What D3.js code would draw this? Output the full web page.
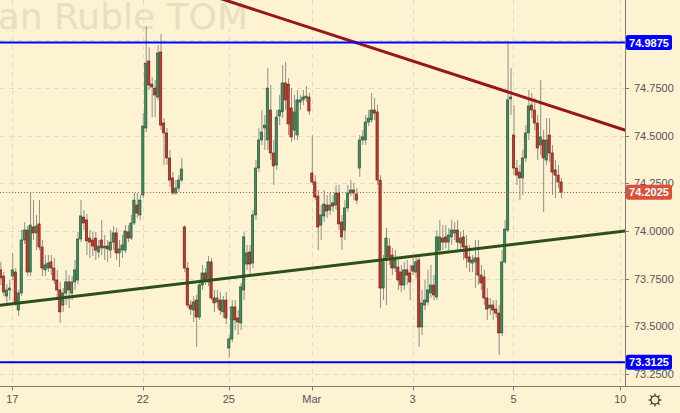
<!DOCTYPE html>
<html>
<head>
<meta charset="utf-8">
<script src="https://cdn.jsdelivr.net/npm/d3@7"></script>
<style>
  body { margin: 0; background: #fdf2d2; }
  svg { display: block; }
</style>
</head>
<body>
<script>
// velas de una hora: [apertura, maximo, minimo, cierre]
var velas = [
  [73.796,73.838,73.717,73.754],[73.764,73.785,73.659,73.680],[73.659,73.722,73.612,73.691],[73.691,73.743,73.638,73.701],
  [73.764,73.885,73.743,73.796],[73.785,73.806,73.607,73.623],[73.586,73.691,73.555,73.675],[73.675,74.005,73.659,73.953],
  [73.953,74.047,73.932,74.005],[74.005,74.026,73.764,73.785],[73.785,74.199,73.764,74.031],[74.021,74.162,73.953,73.990],
  [73.990,74.084,73.900,74.026],[74.037,74.162,73.900,73.916],[73.916,73.953,73.764,73.806],[73.796,73.874,73.764,73.822],
  [73.806,73.874,73.785,73.832],[73.838,73.874,73.769,73.806],[73.806,73.859,73.722,73.743],[73.743,73.796,73.638,73.691],
  [73.691,73.733,73.518,73.576],[73.612,73.701,73.576,73.675],[73.675,73.796,73.612,73.733],[73.733,73.769,73.597,73.691],
  [73.675,73.764,73.638,73.733],[73.733,73.848,73.691,73.796],[73.743,73.995,73.722,73.958],[73.958,74.162,73.942,74.079],
  [74.073,74.110,74.005,74.042],[74.058,74.089,73.874,73.948],[73.963,74.005,73.859,73.942],[73.953,73.995,73.869,73.921],
  [73.963,73.995,73.848,73.900],[73.890,73.953,73.859,73.921],[73.953,74.058,73.874,73.911],[73.911,73.979,73.848,73.921],
  [73.921,73.953,73.838,73.906],[73.900,74.005,73.859,73.942],[73.942,74.026,73.900,73.990],[73.990,74.016,73.848,73.885],
  [73.885,73.953,73.811,73.906],[73.900,73.979,73.859,73.927],[73.900,74.031,73.885,74.000],[73.995,74.031,73.942,73.963],
  [73.963,74.084,73.953,74.042],[74.042,74.199,74.031,74.162],[74.136,74.199,74.068,74.094],[74.084,74.189,74.058,74.162],
  // 22
  [74.189,74.618,74.173,74.550],[74.540,75.074,74.519,74.880],[74.891,74.964,74.739,74.765],[74.770,74.807,74.597,74.755],
  [74.749,74.791,74.597,74.713],[74.702,74.975,74.687,74.933],[74.938,75.032,74.529,74.555],[74.566,74.592,74.346,74.514],
  [74.514,74.540,74.346,74.383],[74.383,74.425,74.231,74.267],[74.278,74.309,74.189,74.199],[74.199,74.267,74.189,74.225],
  [74.225,74.293,74.204,74.267],[74.267,74.383,74.257,74.325],
  // 24
  [74.021,74.031,73.785,73.806],[73.806,73.838,73.597,73.612],[73.612,73.638,73.560,73.591],[73.586,73.659,73.523,73.628],
  [73.638,73.665,73.392,73.549],[73.549,73.743,73.534,73.717],[73.717,73.822,73.691,73.780],[73.780,73.806,73.717,73.743],
  [73.733,73.869,73.712,73.838],[73.838,73.859,73.638,73.649],[73.649,73.691,73.576,73.623],[73.628,73.691,73.597,73.649],
  [73.638,73.680,73.560,73.586],[73.576,73.659,73.544,73.638],[73.638,73.680,73.513,73.544],
  // 25 - 26
  [73.387,73.455,73.335,73.434],[73.434,73.638,73.418,73.602],[73.602,73.638,73.481,73.534],[73.544,73.586,73.455,73.523],
  [73.518,73.728,73.481,73.707],[73.691,73.995,73.638,73.969],[73.827,73.927,73.796,73.885],[73.890,73.927,73.769,73.827],
  [73.832,74.110,73.806,74.084],[74.084,74.372,74.058,74.330],[74.330,74.540,74.309,74.477],[74.477,74.634,74.451,74.519],
  [74.540,74.608,74.425,74.555],[74.477,74.854,74.425,74.749],[74.634,74.765,74.372,74.409],[74.409,74.477,74.241,74.341],
  [74.346,74.634,74.320,74.597],[74.603,74.713,74.555,74.634],[74.624,74.870,74.592,74.776],[74.776,74.886,74.634,74.687],
  [74.770,74.802,74.503,74.561],[74.645,74.749,74.466,74.493],[74.529,74.713,74.477,74.624],[74.503,74.739,74.477,74.687],
  [74.676,74.713,74.634,74.687],[74.687,74.739,74.660,74.702],[74.697,74.760,74.676,74.707],[74.702,74.723,74.608,74.629],
  // Mar 1 - 2
  [74.304,74.503,74.241,74.257],[74.257,74.293,74.162,74.178],[74.183,74.215,73.900,74.021],[74.031,74.136,73.953,74.084],
  [74.079,74.215,74.047,74.141],[74.136,74.189,74.068,74.105],[74.110,74.204,74.084,74.136],[74.147,74.189,74.100,74.131],
  [74.136,74.241,74.110,74.199],[74.199,74.241,74.005,74.037],[74.047,74.084,73.900,73.969],[74.005,74.162,73.953,74.121],
  [74.121,74.241,74.100,74.199],[74.199,74.267,74.183,74.215],[74.215,74.252,74.162,74.199],[74.194,74.225,74.141,74.162],
  [74.330,74.503,74.283,74.477],[74.477,74.529,74.451,74.493],[74.477,74.608,74.451,74.571],[74.571,74.634,74.550,74.592],
  [74.582,74.723,74.566,74.634],[74.634,74.697,74.582,74.618],[74.624,74.660,74.241,74.267],[74.267,74.293,73.597,73.701],
  [73.701,73.874,73.638,73.838],[73.848,74.016,73.612,73.963],[73.921,73.963,73.822,73.864],[73.874,73.911,73.769,73.806],
  [73.806,73.900,73.785,73.859],[73.811,73.848,73.691,73.743],[73.785,73.822,73.680,73.717],[73.717,73.838,73.691,73.796],
  [73.796,73.848,73.717,73.769],[73.780,73.822,73.638,73.733],
  // 3 - 4
  [73.817,73.859,73.769,73.790],[73.785,73.874,73.754,73.838],[73.848,73.874,73.392,73.497],[73.497,73.691,73.455,73.623],
  [73.612,73.743,73.586,73.638],[73.628,73.796,73.612,73.691],[73.675,73.822,73.649,73.717],[73.717,73.769,73.638,73.665],
  [73.654,74.005,73.638,73.969],[73.900,74.058,73.874,73.969],[73.963,74.031,73.900,73.942],[73.969,74.031,73.911,73.942],
  [73.942,74.016,73.900,73.979],[73.969,74.058,73.927,74.005],[73.990,74.047,73.953,74.005],[74.005,74.058,73.900,73.942],
  [73.937,73.995,73.900,73.963],[73.969,74.005,73.848,73.916],[73.921,73.979,73.806,73.859],[73.864,73.927,73.785,73.838],
  [73.832,73.874,73.785,73.848],[73.838,73.953,73.701,73.859],[73.859,73.953,73.717,73.769],[73.769,73.822,73.691,73.728],
  [73.759,73.796,73.612,73.649],[73.649,73.701,73.534,73.591],[73.597,73.649,73.560,73.612],[73.612,73.638,73.534,73.586],
  [73.591,73.638,73.544,73.570],[73.570,73.612,73.350,73.466],[73.466,73.900,73.450,73.838],[73.838,74.058,73.830,74.010],
  [74.005,74.985,73.995,74.687],[74.692,74.854,74.608,74.702],
  // 5
  [74.503,74.660,74.293,74.330],[74.330,74.372,74.241,74.293],[74.309,74.346,74.162,74.278],[74.278,74.425,74.189,74.383],
  [74.383,74.555,74.362,74.514],[74.514,74.739,74.477,74.655],[74.660,74.723,74.592,74.634],[74.634,74.697,74.529,74.566],
  [74.566,74.608,74.372,74.435],[74.451,74.791,74.398,74.493],[74.477,74.529,74.100,74.383],[74.372,74.592,74.346,74.477],
  [74.503,74.592,74.362,74.409],[74.409,74.451,74.189,74.309],[74.320,74.372,74.173,74.293],[74.293,74.346,74.225,74.257],
  [74.257,74.278,74.173,74.2025]
];

// etiquetas de fecha (indice de la primera vela del dia)
var diasIdx = [4, 48, 77, 105, 139, 173, 209];
var diasTxt = ["17", "22", "25", "Mar", "3", "5", "10"];

// precios: lineas de rejilla y etiquetas del eje derecho
var preciosRejilla = [73.25, 73.5, 73.75, 74, 74.25, 74.5, 74.75, 75];
var preciosTicks = [73.25, 73.5, 73.75, 74, 74.25, 74.5, 74.75];

// niveles horizontales azules y ultimo precio
var niveles = [74.9875, 73.3125];
var ultimo = 74.2025;

// lineas de tendencia [indice, precio]
var tendRoja = [[60, 75.290], [212, 74.522]];
var tendVerde = [[-2, 73.608], [212, 74.002]];

var W = 680, H = 413;
var plotW = 625, plotH = 386.5;

var x = d3.scaleLinear().domain([-0.135, 210.6]).range([0, plotW]);
var y = d3.scaleLinear().domain([73.185, 75.2107]).range([plotH, 0]);

var svg = d3.select("body").append("svg")
  .attr("width", W)
  .attr("height", H);

svg.append("rect").attr("width", W).attr("height", H).attr("fill", "#fdf2d2");

svg.append("defs").append("clipPath").attr("id", "zona")
  .append("rect").attr("width", plotW).attr("height", plotH);

// marca de agua (cortada por la izquierda como en el original)
svg.append("g").attr("clip-path", "url(#zona)")
  .append("text")
  .attr("x", 248)
  .attr("y", 29)
  .attr("text-anchor", "end")
  .attr("font-family", "DejaVu Sans")
  .attr("font-size", 36)
  .attr("fill", "#e8dfc1")
  .text("U.S. Dollar / Russian Ruble TOM");

// rejilla
var rejilla = svg.append("g").attr("stroke", "#dadcd8").attr("stroke-width", 1).attr("stroke-dasharray", "5,4");
rejilla.selectAll(".gv").data(diasIdx).enter().append("line")
  .attr("x1", function(d) { return Math.round(x(d)) + 0.5; })
  .attr("x2", function(d) { return Math.round(x(d)) + 0.5; })
  .attr("y1", 0).attr("y2", plotH);
rejilla.selectAll(".gh").data(preciosRejilla).enter().append("line")
  .attr("x1", 0).attr("x2", plotW)
  .attr("y1", function(d) { return Math.round(y(d)) + 0.5; })
  .attr("y2", function(d) { return Math.round(y(d)) + 0.5; });

var zona = svg.append("g").attr("clip-path", "url(#zona)");

// velas
var g = zona.append("g");
g.selectAll(".mecha").data(velas).enter().append("line")
  .attr("x1", function(d, i) { return x(i) + 0.5; })
  .attr("x2", function(d, i) { return x(i) + 0.5; })
  .attr("y1", function(d) { return y(d[1]); })
  .attr("y2", function(d) { return y(d[2]); })
  .attr("stroke", "#8f8f8a")
  .attr("stroke-width", 1);

g.selectAll(".cuerpo").data(velas).enter().append("rect")
  .attr("x", function(d, i) { return x(i) - 1.1; })
  .attr("width", 2.3)
  .attr("y", function(d) { return y(Math.max(d[0], d[3])); })
  .attr("height", function(d) { return Math.max(1, Math.abs(y(d[0]) - y(d[3]))); })
  .attr("fill", function(d) { return d[3] >= d[0] ? "#3f8c5e" : "#c23a2a"; })
  .attr("stroke", function(d) { return d[3] >= d[0] ? "#1e4f31" : "#6b1a10"; })
  .attr("stroke-width", 0.6);

// lineas de tendencia
var linea = d3.line().x(function(d) { return x(d[0]); }).y(function(d) { return y(d[1]); });
zona.append("path").attr("d", linea(tendRoja)).attr("stroke", "#971717").attr("stroke-width", 3).attr("fill", "none");
zona.append("path").attr("d", linea(tendVerde)).attr("stroke", "#2b5118").attr("stroke-width", 3).attr("fill", "none");

// niveles azules
zona.selectAll(".nivel").data(niveles).enter().append("line")
  .attr("x1", 0).attr("x2", plotW)
  .attr("y1", function(d) { return y(d); })
  .attr("y2", function(d) { return y(d); })
  .attr("stroke", "#0000ff")
  .attr("stroke-width", 2);

// linea del ultimo precio
zona.append("line")
  .attr("x1", 0).attr("x2", plotW)
  .attr("y1", Math.round(y(ultimo)) + 0.5).attr("y2", Math.round(y(ultimo)) + 0.5)
  .attr("stroke", "#e0503d")
  .attr("stroke-width", 1)
  .attr("stroke-dasharray", "1,2");

// ejes
svg.append("line").attr("x1", 0).attr("x2", W).attr("y1", plotH).attr("y2", plotH)
  .attr("stroke", "#7d7d78").attr("stroke-width", 1);
svg.append("line").attr("x1", plotW + 0.5).attr("x2", plotW + 0.5).attr("y1", 0).attr("y2", plotH)
  .attr("stroke", "#7d7d78").attr("stroke-width", 1);

// eje x
var ejeX = svg.append("g");
ejeX.selectAll(".tx").data(diasIdx).enter().append("line")
  .attr("x1", function(d) { return Math.round(x(d)) + 0.5; })
  .attr("x2", function(d) { return Math.round(x(d)) + 0.5; })
  .attr("y1", plotH).attr("y2", plotH + 4)
  .attr("stroke", "#7d7d78");
ejeX.selectAll(".lx").data(diasIdx).enter().append("text")
  .attr("x", function(d) { return x(d); })
  .attr("y", 403)
  .attr("text-anchor", "middle")
  .attr("font-family", "Liberation Sans, Arial, sans-serif")
  .attr("font-size", 11)
  .attr("fill", "#555")
  .text(function(d, i) { return diasTxt[i]; });

// eje y
var fmt = d3.format(".4f");
var ejeY = svg.append("g");
ejeY.selectAll(".ty").data(preciosRejilla).enter().append("line")
  .attr("x1", plotW).attr("x2", plotW + 4)
  .attr("y1", function(d) { return Math.round(y(d)) + 0.5; })
  .attr("y2", function(d) { return Math.round(y(d)) + 0.5; })
  .attr("stroke", "#7d7d78");
ejeY.selectAll(".ly").data(preciosTicks).enter().append("text")
  .attr("x", 634)
  .attr("y", function(d) { return y(d) + 4; })
  .attr("font-family", "Liberation Sans, Arial, sans-serif")
  .attr("font-size", 11)
  .attr("fill", "#555")
  .text(function(d) { return fmt(d); });

// etiquetas de precio
function etiqueta(valor, color) {
  var yy = y(valor);
  svg.append("rect")
    .attr("x", 626).attr("y", yy - 7.5)
    .attr("width", 46).attr("height", 15)
    .attr("rx", 2)
    .attr("fill", color);
  svg.append("text")
    .attr("x", 649).attr("y", yy + 4)
    .attr("text-anchor", "middle")
    .attr("font-family", "Liberation Sans, Arial, sans-serif")
    .attr("font-size", 11)
    .attr("font-weight", "bold")
    .attr("fill", "#fff")
    .text(fmt(valor));
}
niveles.forEach(function(v) { etiqueta(v, "#0000ff"); });
etiqueta(ultimo, "#d9503c");

// icono de ajustes
var eng = svg.append("g").attr("transform", "translate(655,400)")
  .attr("stroke", "#333").attr("fill", "none").attr("stroke-width", 1.2);
eng.append("circle").attr("r", 4);
d3.range(8).forEach(function(k) {
  var a = k * Math.PI / 4;
  eng.append("line")
    .attr("x1", 4 * Math.cos(a)).attr("y1", 4 * Math.sin(a))
    .attr("x2", 6.5 * Math.cos(a)).attr("y2", 6.5 * Math.sin(a));
});
</script>
</body>
</html>
